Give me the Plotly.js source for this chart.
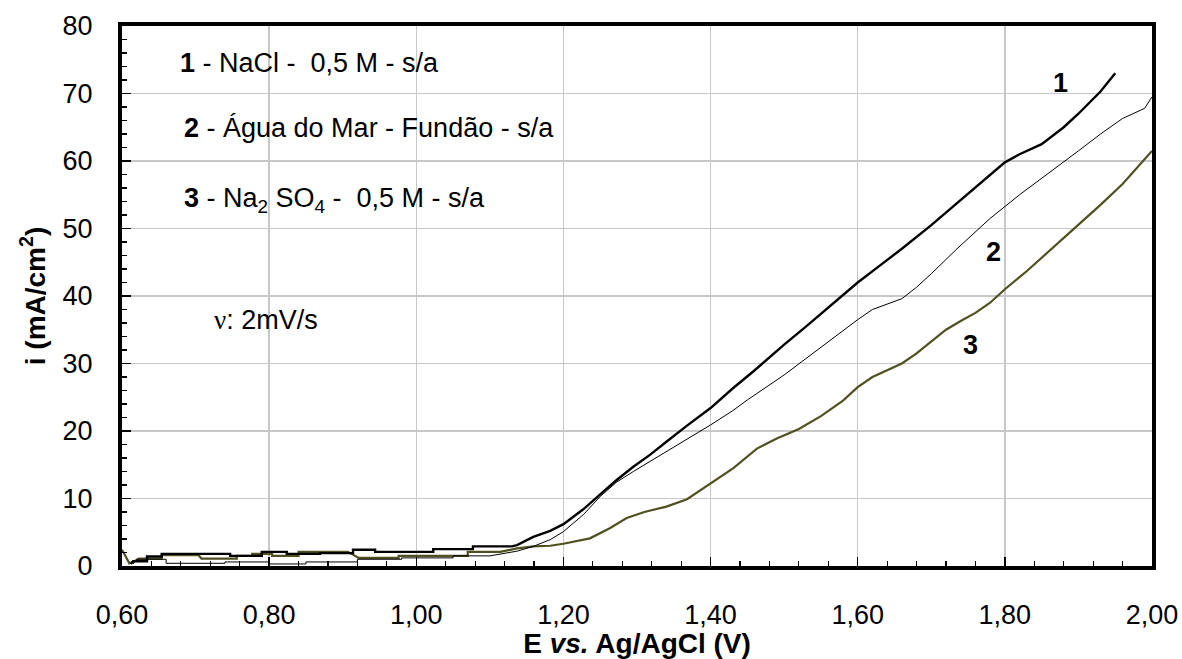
<!DOCTYPE html>
<html>
<head>
<meta charset="utf-8">
<script src="https://cdn.plot.ly/plotly-3.0.1.min.js"></script>
<style>html,body{margin:0;padding:0;background:#fff;}#chart{width:1182px;height:659px;}</style>
</head>
<body>
<div id="chart"></div>
<script>
// Curve 1 : NaCl 0,5 M
const E1 = [0.612,0.615,0.634,0.634,0.654,0.654,0.747,0.747,0.790,0.790,0.824,0.824,0.869,0.869,0.914,0.914,0.944,0.944,1.023,1.023,1.077,1.077,1.130,1.137,1.159,1.182,1.200,1.227,1.250,1.272,1.295,1.318,1.340,1.368,1.400,1.430,1.460,1.500,1.530,1.560,1.600,1.630,1.660,1.700,1.730,1.760,1.800,1.820,1.850,1.880,1.900,1.930,1.950];
const I1 = [0.3,0.7,0.7,1.4,1.4,1.8,1.8,1.5,1.5,2.1,2.1,1.8,1.8,1.9,1.9,2.4,2.4,2.1,2.1,2.5,2.5,2.9,2.9,3.1,4.3,5.2,6.2,8.4,10.6,12.7,14.7,16.5,18.4,20.8,23.4,26.3,29.0,32.8,35.5,38.3,42.0,44.5,47.0,50.5,53.3,56.2,59.8,61.0,62.5,65.0,67.0,70.3,73.0];
// Curve 2 : Água do Mar - Fundão
const E2 = [0.615,0.620,0.660,0.660,0.740,0.740,0.800,0.800,0.850,0.850,0.920,0.920,0.980,0.980,1.050,1.050,1.100,1.114,1.137,1.159,1.182,1.200,1.227,1.250,1.272,1.295,1.318,1.340,1.368,1.400,1.430,1.450,1.500,1.530,1.560,1.600,1.620,1.640,1.660,1.680,1.700,1.735,1.760,1.780,1.820,1.860,1.900,1.930,1.960,1.990,2.000];
const I2 = [0.3,1.0,1.0,0.4,0.4,0.6,0.6,0.3,0.3,0.6,0.6,1.0,1.0,1.2,1.2,1.5,1.5,1.8,2.2,2.9,3.9,5.1,7.6,10.3,12.4,14.0,15.5,16.9,18.8,20.9,23.0,24.6,28.3,30.8,33.3,36.5,38.0,38.8,39.6,41.3,43.3,47.0,49.5,51.5,55.0,58.2,61.5,64.0,66.3,67.8,69.5];
// Curve 3 : Na2SO4 0,5 M
const E3 = [0.600,0.610,0.617,0.623,0.654,0.654,0.704,0.708,0.756,0.756,0.777,0.777,0.804,0.804,0.840,0.840,0.907,0.922,0.976,0.976,1.070,1.070,1.114,1.137,1.159,1.182,1.200,1.236,1.263,1.286,1.310,1.340,1.368,1.400,1.431,1.463,1.490,1.520,1.550,1.580,1.600,1.620,1.640,1.660,1.680,1.700,1.720,1.740,1.760,1.780,1.800,1.830,1.860,1.900,1.930,1.960,2.000];
const I3 = [2.4,0.4,0.7,1.1,1.1,1.6,1.6,1.1,1.1,1.5,1.5,1.8,1.8,1.5,1.5,2.1,2.1,1.2,1.2,1.5,1.5,2.1,2.1,2.6,2.9,3.0,3.3,4.1,5.6,7.1,8.0,8.8,9.9,12.2,14.5,17.4,18.9,20.3,22.2,24.5,26.5,28.0,29.0,30.0,31.5,33.3,35.0,36.3,37.5,39.0,41.0,43.7,46.6,50.5,53.5,56.6,61.5];

const xTicks = [0.6,0.8,1.0,1.2,1.4,1.6,1.8,2.0];
const yTicks = [0,10,20,30,40,50,60,70,80];

const FONT = 'Arial, "Liberation Sans", sans-serif';

const traces = [
  {x:E3, y:I3, mode:'lines', line:{color:'#505020', width:2.2}, hoverinfo:'skip'},
  {x:E2, y:I2, mode:'lines', line:{color:'#000000', width:1}, hoverinfo:'skip'},
  {x:E1, y:I1, mode:'lines', line:{color:'#000000', width:2.4}, hoverinfo:'skip'}
];

const L = 122, R = 1152, T = 26, B = 566;
function px(x){return (x-L)/(R-L);}
function py(y){return (B-y)/(B-T);}

const ann = (text, x, y, opts={}) => Object.assign({
  text, xref:'paper', yref:'paper', x:px(x), y:py(y), xanchor:'left', yanchor:'middle',
  showarrow:false, font:{family:FONT, size:27, color:'#000'}
}, opts);

const layout = {
  width:1182, height:659,
  margin:{l:L, r:1182-R, t:T, b:659-B},
  paper_bgcolor:'#fff', plot_bgcolor:'#fff',
  showlegend:false,
  separators:', ',
  font:{family:FONT, color:'#000'},
  xaxis:{
    range:[0.6,2.0], tickvals:xTicks, tickformat:'.2f',
    showgrid:true, gridcolor:'#c8c8c8', gridwidth:1.5,
    zeroline:false, showline:true, linecolor:'#000', linewidth:4, mirror:true,
    ticks:'inside', ticklen:9, tickwidth:1.5, tickcolor:'#000',
    minor:{dtick:0.04, ticks:'inside', ticklen:5, tickwidth:1.2, tickcolor:'#000', showgrid:false},
    tickfont:{family:FONT, size:27, color:'#000'},
    ticklabelstandoff:22,
    title:{text:'<b>E <i>vs.</i> Ag/AgCl (V)</b>', font:{family:FONT, size:28, color:'#000'}, standoff:4}
  },
  yaxis:{
    range:[0,80], tickvals:yTicks,
    showgrid:true, gridcolor:'#c8c8c8', gridwidth:1.5,
    zeroline:false, showline:true, linecolor:'#000', linewidth:4, mirror:true,
    ticks:'inside', ticklen:9, tickwidth:1.5, tickcolor:'#000',
    minor:{dtick:2, ticks:'inside', ticklen:5, tickwidth:1.2, tickcolor:'#000', showgrid:false},
    tickfont:{family:FONT, size:27, color:'#000'},
    ticklabelstandoff:20,
    title:{text:'<b>i (mA/cm<sup>2</sup>)</b>', font:{family:FONT, size:28, color:'#000'}, standoff:10}
  },
  annotations:[
    ann('<b>1</b> - NaCl -  0,5 M - s/a', 178, 63),
    ann('<b>2</b> - Água do Mar - Fundão - s/a', 182, 128),
    ann('<b>3</b> - Na<sub>2</sub> SO<sub>4</sub> -  0,5 M - s/a', 182, 200),
    ann('<span style="font-family:\'Liberation Serif\',serif">ν</span>: 2mV/s', 212, 320),
    ann('<b>1</b>', 1060, 83, {xanchor:'center'}),
    ann('<b>2</b>', 993, 252, {xanchor:'center'}),
    ann('<b>3</b>', 970, 345, {xanchor:'center'})
  ]
};

Plotly.newPlot('chart', traces, layout, {staticPlot:true, displayModeBar:false});
</script>
</body>
</html>
